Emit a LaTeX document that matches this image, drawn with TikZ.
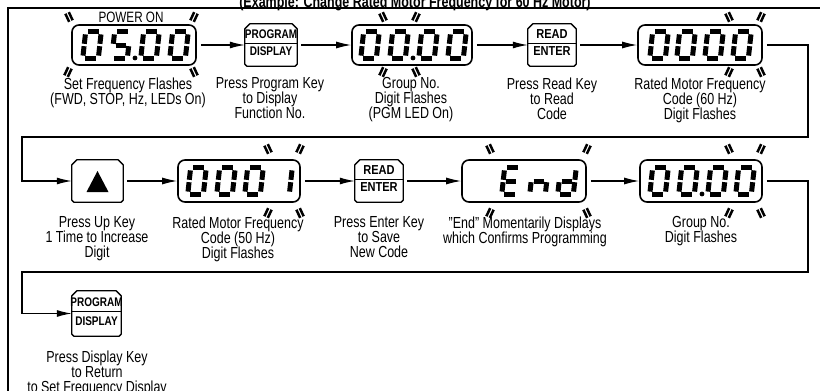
\documentclass[tikz,border=0pt]{standalone}
\usepackage{fontspec}
\setmainfont{Liberation Sans}[FakeStretch=0.78]
\newfontfamily\keyfont{Liberation Sans}[FakeStretch=0.8]
\newfontfamily\keyfontb{Liberation Sans}[FakeStretch=0.85]
\usetikzlibrary{arrows.meta}
\newcommand\segA{\draw[seg] (-5.4,-13.2)--(5.4,-13.2);}
\newcommand\segB{\draw[seg] (7.8,-10.6)--(7.8,-1.2);}
\newcommand\segC{\draw[seg] (7.8,1.2)--(7.8,10.6);}
\newcommand\segD{\draw[seg] (-5.4,13.2)--(5.4,13.2);}
\newcommand\segE{\draw[seg] (-7.8,1.2)--(-7.8,10.6);}
\newcommand\segF{\draw[seg] (-7.8,-10.6)--(-7.8,-1.2);}
\newcommand\segG{\draw[seg] (-5.4,0)--(5.4,0);}
\newcommand\sdig[3]{\begin{scope}[shift={(#1,#2)}, xslant=0.11]\foreach \s in {#3}{\csname seg\s\endcsname}\end{scope}}
\newcommand\sdot[2]{\fill (#1,#2) circle (2.4pt);}
\newcommand\flash[3]{\draw[flashst, shift={(#1,#2)}, rotate=#3] (-4.5,-1.9)--(4.5,-1.9) (-4.5,1.9)--(4.5,1.9);}
\newcommand\keyframe[1]{%
 \draw[keyline] ([yshift=-5pt]#1.north west) -- ([xshift=5pt]#1.north west) -- ([xshift=-5pt]#1.north east) -- ([yshift=-5pt]#1.north east) -- ([yshift=2pt]#1.south east) -- ([xshift=-2pt]#1.south east) -- ([xshift=2pt]#1.south west) -- ([yshift=2pt]#1.south west) -- cycle;}
\begin{document}
\begin{tikzpicture}[x=1pt,y=-1pt,
  every node/.style={inner sep=0pt},
  disp/.style={draw, line width=1.6pt, rounded corners=7pt, minimum height=40pt, minimum width=122pt},
  disptwo/.style={disp, minimum height=42pt},
  keynode/.style={minimum width=50pt, minimum height=42pt},
  keyline/.style={line width=1.3pt, line join=round},
  keytxt/.style={font=\keyfont\bfseries\fontsize{12.5}{12.5}\selectfont, anchor=base},
  keytxtb/.style={font=\keyfontb\bfseries\fontsize{13}{13}\selectfont, anchor=base},
  keydiv/.style={line width=1pt},
  captxt/.style={font=\fontsize{16}{15}\selectfont, align=center, anchor=north},
  arr/.style={line width=1.2pt, -{Latex[length=15pt,width=7pt]}, shorten <=4pt},
  seg/.style={line width=5pt},
  flashst/.style={line width=2.5pt},
  frameline/.style={line width=1.3pt}]
\clip (0,0) rectangle (820,391);
\useasboundingbox (0,0) rectangle (820,391);

% frame and title
\draw[frameline] (8,400) -- (8,8) -- (830,8);
\node[font=\bfseries\fontsize{16}{16}\selectfont, anchor=base] (title) at (415,7) {(Example: Change Rated Motor Frequency for 60 Hz Motor)};

% ---------- row 1 ----------
\node[disp, minimum width=124pt] (d1) at (134,45) {};
\node[keynode, minimum width=52pt] (k1) at (271,45) {};
\node[disp, minimum width=120pt] (d2) at (412,45) {};
\node[keynode, minimum width=48pt] (k2) at (552,45) {};
\node[disp, minimum width=124pt] (d3) at (700,45) {};

\node[font=\fontsize{15}{15}\selectfont] (pwr) at (131,17) {POWER ON};

% digits row 1
\sdig{92}{45}{A,B,C,D,E,F}\sdig{121}{45}{A,F,G,C,D}\sdot{135}{58}\sdig{150}{45}{A,B,C,D,E,F}\sdig{179}{45}{A,B,C,D,E,F}
\sdig{370}{45}{A,B,C,D,E,F}\sdig{399}{45}{A,B,C,D,E,F}\sdot{413}{58}\sdig{428}{45}{A,B,C,D,E,F}\sdig{457}{45}{A,B,C,D,E,F}
\sdig{659}{45}{A,B,C,D,E,F}\sdig{686}{45}{A,B,C,D,E,F}\sdig{714}{45}{A,B,C,D,E,F}\sdig{742}{45}{A,B,C,D,E,F}

% flashes row 1
\flash{69}{17}{115}\flash{194}{17}{65}\flash{68}{72}{245}\flash{194}{72}{295}
\flash{383}{17}{115}\flash{416}{17}{65}\flash{383}{72}{245}\flash{416}{72}{295}
\flash{729}{17}{115}\flash{761}{17}{65}\flash{729}{72}{245}\flash{761}{72}{295}

% keys row 1
\keyframe{k1}
\node[keytxt] (k1a) at ([yshift=7pt]k1.center) {PROGRAM};
\node[keytxt] (k1b) at ([yshift=-10.5pt]k1.center) {DISPLAY};
\draw[keydiv] ([yshift=2pt]k1.west) -- ([yshift=2pt]k1.east);
\keyframe{k2}
\node[keytxtb] (k2a) at ([yshift=7pt]k2.center) {READ};
\node[keytxtb] (k2b) at ([yshift=-10.5pt]k2.center) {ENTER};
\draw[keydiv] ([yshift=2pt]k2.west) -- ([yshift=2pt]k2.east);

% arrows row 1
\draw[arr] (d1) -- (k1);
\draw[arr] (k1) -- (d2);
\draw[arr] (d2) -- (k2);
\draw[arr] (k2) -- (d3);

% captions row 1
\node[captxt] (t1) at (128,77.5) {Set Frequency Flashes\\(FWD, STOP, Hz, LEDs On)};
\node[captxt] (t2) at (270,77.5) {Press Program Key\\to Display\\Function No.};
\node[captxt] (t3) at (411,77.5) {Group No.\\Digit Flashes\\(PGM LED On)};
\node[captxt] (t4) at (552,77.5) {Press Read Key\\to Read\\Code};
\node[captxt] (t5) at (700,77.5) {Rated Motor Frequency\\Code (60 Hz)\\Digit Flashes};

% ---------- row 2 ----------
\node[keynode, minimum width=51pt] (k3) at (97.5,181) {};
\node[disptwo, minimum width=122pt] (d4) at (239,181) {};
\node[keynode, minimum width=48pt] (k4) at (379,181) {};
\node[disptwo, minimum width=124pt] (d5) at (524,181) {};
\node[disptwo, minimum width=122pt] (d6) at (701,181) {};

\sdig{197}{181}{A,B,C,D,E,F}\sdig{226}{181}{A,B,C,D,E,F}\sdig{254}{181}{A,B,C,D,E,F}\sdig{283}{181}{B,C}
\sdig{511}{181}{A,D,E,F,G}\sdig{539}{181}{C,E,G}\sdig{567}{181}{B,C,D,E,G}
\sdig{659}{181}{A,B,C,D,E,F}\sdig{688}{181}{A,B,C,D,E,F}\sdot{702}{194}\sdig{717}{181}{A,B,C,D,E,F}\sdig{745}{181}{A,B,C,D,E,F}

\flash{268}{149}{115}\flash{300}{149}{65}\flash{268}{213}{245}\flash{300}{213}{295}
\flash{490}{149}{115}\flash{587}{149}{65}\flash{490}{213}{245}\flash{587}{213}{295}
\flash{729}{149}{115}\flash{761}{149}{65}\flash{729}{213}{245}\flash{761}{213}{295}

\keyframe{k3}
\fill ([xshift=-11pt,yshift=-11pt]k3.center) -- ([xshift=11pt,yshift=-11pt]k3.center) -- ([yshift=10pt]k3.center) -- cycle;
\keyframe{k4}
\node[keytxtb] (k4a) at ([yshift=7pt]k4.center) {READ};
\node[keytxtb] (k4b) at ([yshift=-10.5pt]k4.center) {ENTER};
\draw[keydiv] ([yshift=2pt]k4.west) -- ([yshift=2pt]k4.east);

\draw[arr] (k3) -- (d4);
\draw[arr] (d4) -- (k4);
\draw[arr] (k4) -- (d5);
\draw[arr] (d5) -- (d6);

\node[captxt] (t6) at (97,216.5) {Press Up Key\\1 Time to Increase\\Digit};
\node[captxt] (t7) at (238,216.5) {Rated Motor Frequency\\Code (50 Hz)\\Digit Flashes};
\node[captxt] (t8) at (379,216.5) {Press Enter Key\\to Save\\New Code};
\node[captxt] (t9) at (525,216.5) {"End" Momentarily Displays\\which Confirms Programming};
\node[captxt] (t10) at (701,216.5) {Group No.\\Digit Flashes};

% ---------- row 3 ----------
\node[keynode, minimum width=49pt, minimum height=45pt] (k5) at (96.5,313.5) {};
\keyframe{k5}
\node[keytxt] (k5a) at ([yshift=7pt]k5.center) {PROGRAM};
\node[keytxt] (k5b) at ([yshift=-11.5pt]k5.center) {DISPLAY};
\draw[keydiv] ([yshift=2pt]k5.west) -- ([yshift=2pt]k5.east);
\node[captxt] (t11) at (97,350.5) {Press Display Key\\to Return\\to Set Frequency Display};

% ---------- loop connectors ----------
\coordinate (c1) at (808,137);
\coordinate (c2) at (22,137);
\draw[arr] (d3.east) -- (d3.east -| c1) -- (c1) -- (c2) -- (c2 |- k3.west) -- (k3.west);
\coordinate (c3) at (808,272);
\coordinate (c4) at (22,272);
\draw[arr] (d6.east) -- (d6.east -| c3) -- (c3) -- (c4) -- (c4 |- k5.west) -- (k5.west);
\end{tikzpicture}
\end{document}
